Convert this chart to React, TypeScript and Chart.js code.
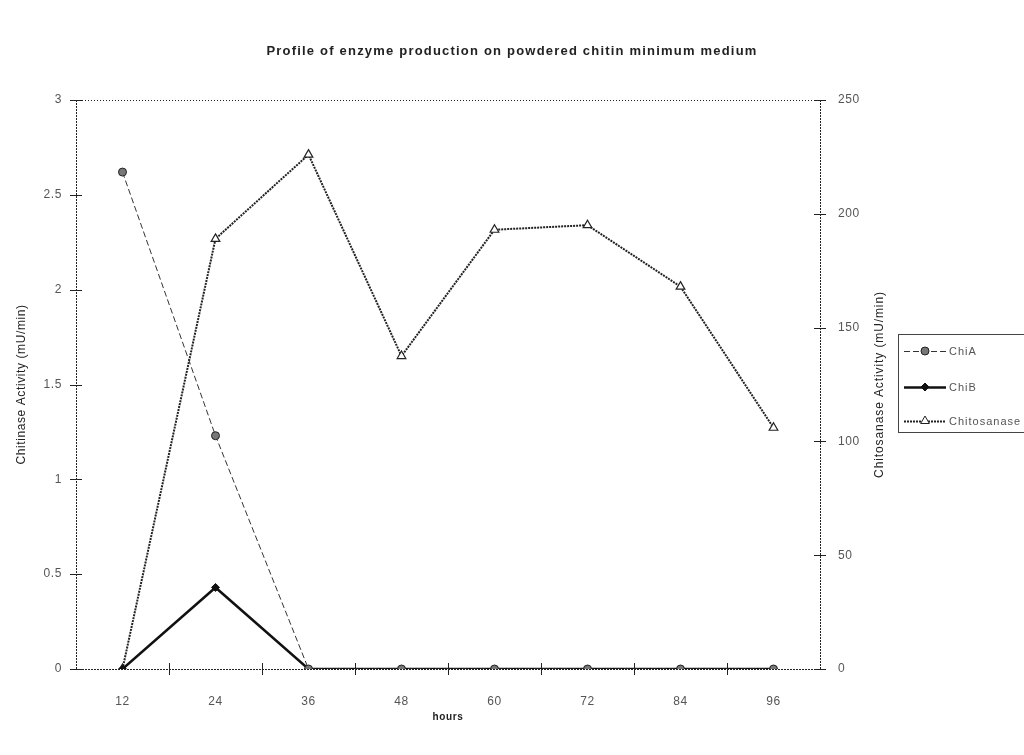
import React, { useEffect, useRef } from "react";
import { Chart, registerables } from "chart.js";

Chart.register(...registerables);

const hours = ["12", "24", "36", "48", "60", "72", "84", "96"];
const chiA = [2.62, 1.23, 0, 0, 0, 0, 0, 0];
const chiB = [0, 0.43, 0, 0, 0, 0, 0, 0];
const chitosanase = [0, 189, 226, 137.5, 193, 195, 168, 106];
const leftTicks = [0, 0.5, 1, 1.5, 2, 2.5, 3];
const rightTicks = [0, 50, 100, 150, 200, 250];

const TITLE = "Profile of enzyme production on powdered chitin minimum medium";
const RIGHT_TITLE = "Chitosanase Activity (mU/min)";
const FONT = "Arial, 'Liberation Sans', sans-serif";

function drawMarker(ctx: CanvasRenderingContext2D, style: string, x: number, y: number, r: number) {
  ctx.beginPath();
  if (style === "circle") {
    ctx.arc(x, y, r, 0, Math.PI * 2);
  } else if (style === "rectRot") {
    ctx.moveTo(x, y - r);
    ctx.lineTo(x + r, y);
    ctx.lineTo(x, y + r);
    ctx.lineTo(x - r, y);
    ctx.closePath();
  } else if (style === "triangle") {
    ctx.moveTo(x, y - r);
    ctx.lineTo(x + r * 0.87, y + r * 0.5);
    ctx.lineTo(x - r * 0.87, y + r * 0.5);
    ctx.closePath();
  }
  ctx.fill();
  ctx.stroke();
}

const spacingPlugin = {
  id: "spacing",
  beforeDraw(chart: any) {
    (chart.ctx as any).letterSpacing = "0.6px";
  },
};

const framePlugin = {
  id: "frame",
  afterDraw(chart: any) {
    const ctx = chart.ctx;
    const { left, right, top, bottom } = chart.chartArea;
    const yL = chart.scales.y;
    const yR = chart.scales.y2;
    const x = chart.scales.x;
    ctx.save();
    ctx.fillStyle = "#222";
    ctx.font = "bold 13px " + FONT;
    (ctx as any).letterSpacing = "1.2px";
    ctx.textAlign = "center";
    ctx.textBaseline = "middle";
    ctx.fillText(TITLE, 512, 51);
    ctx.save();
    ctx.translate(880, (top + bottom) / 2);
    ctx.rotate(-Math.PI / 2);
    ctx.font = "12px " + FONT;
    (ctx as any).letterSpacing = "0.9px";
    ctx.fillText(RIGHT_TITLE, 0, 0);
    ctx.restore();

    ctx.strokeStyle = "#222";
    ctx.lineWidth = 1;
    ctx.setLineDash([1, 2]);
    ctx.beginPath();
    ctx.moveTo(left, top + 0.5);
    ctx.lineTo(right, top + 0.5);
    ctx.stroke();
    ctx.setLineDash([2, 1]);
    ctx.beginPath();
    ctx.moveTo(left + 0.5, top);
    ctx.lineTo(left + 0.5, bottom);
    ctx.moveTo(right + 0.5, top);
    ctx.lineTo(right + 0.5, bottom);
    ctx.moveTo(left, bottom + 0.5);
    ctx.lineTo(right, bottom + 0.5);
    ctx.stroke();
    ctx.setLineDash([]);
    ctx.beginPath();
    leftTicks.forEach((v) => {
      const py = Math.round(yL.getPixelForValue(v)) + 0.5;
      ctx.moveTo(left - 6, py);
      ctx.lineTo(left + 6, py);
    });
    rightTicks.forEach((v) => {
      const py = Math.round(yR.getPixelForValue(v)) + 0.5;
      ctx.moveTo(right - 6, py);
      ctx.lineTo(right + 6, py);
    });
    for (let i = 0; i < hours.length - 1; i++) {
      const px = Math.round((x.getPixelForValue(i) + x.getPixelForValue(i + 1)) / 2) + 0.5;
      ctx.moveTo(px, bottom - 6);
      ctx.lineTo(px, bottom + 6);
    }
    ctx.stroke();

    const lx = 898, ly = 334, lw = 140, lh = 98;
    ctx.strokeStyle = "#444";
    ctx.lineWidth = 1;
    ctx.strokeRect(lx + 0.5, ly + 0.5, lw, lh);
    const rows = [351, 387, 421];
    chart.data.datasets.forEach((ds: any, i: number) => {
      const cy = rows[i];
      ctx.save();
      ctx.strokeStyle = ds.borderColor;
      ctx.lineWidth = ds.borderWidth;
      ctx.setLineDash(ds.borderDash || []);
      ctx.beginPath();
      ctx.moveTo(lx + 6, cy + 0.5);
      ctx.lineTo(lx + 48, cy + 0.5);
      ctx.stroke();
      ctx.setLineDash([]);
      ctx.fillStyle = ds.pointBackgroundColor;
      ctx.strokeStyle = ds.pointBorderColor;
      ctx.lineWidth = 1;
      drawMarker(ctx, ds.pointStyle, lx + 27, cy, ds.pointRadius);
      ctx.fillStyle = "#555";
      ctx.font = "11px " + FONT;
      (ctx as any).letterSpacing = "1px";
      ctx.textBaseline = "middle";
      ctx.textAlign = "left";
      ctx.fillText(ds.label, lx + 51, cy + 1);
      ctx.restore();
    });
    ctx.restore();
  },
};

export default function App() {
  const ref = useRef<HTMLCanvasElement | null>(null);
  useEffect(() => {
    document.body.style.margin = "0";
    const fmt = (v: any) => String(v);
    const chart = new Chart(ref.current as HTMLCanvasElement, {
      type: "line",
      data: {
        labels: hours,
        datasets: [
          {
            label: "ChiA",
            data: chiA,
            yAxisID: "y",
            borderColor: "#333",
            borderWidth: 1,
            borderDash: [6, 3],
            pointStyle: "circle",
            pointRadius: 4,
            pointBackgroundColor: "#777",
            pointBorderColor: "#222",
            pointBorderWidth: 1,
            tension: 0,
          },
          {
            label: "ChiB",
            data: chiB,
            yAxisID: "y",
            borderColor: "#111",
            borderWidth: 2.5,
            pointStyle: "rectRot",
            pointRadius: 4,
            pointBackgroundColor: "#111",
            pointBorderColor: "#111",
            pointBorderWidth: 1,
            tension: 0,
          },
          {
            label: "Chitosanase",
            data: chitosanase,
            yAxisID: "y2",
            borderColor: "#222",
            borderWidth: 2,
            borderDash: [2, 1],
            pointStyle: "triangle",
            pointRadius: 5,
            pointBackgroundColor: "#fff",
            pointBorderColor: "#222",
            pointBorderWidth: 1.2,
            tension: 0,
          },
        ],
      },
      options: {
        animation: false,
        responsive: false,
        layout: { padding: { left: 0, right: 132, top: 100, bottom: 0 } },
        plugins: {
          legend: { display: false },
          tooltip: { enabled: false },
          title: { display: false },
        },
        scales: {
          x: {
            type: "category",
            offset: true,
            border: { display: false },
            grid: { display: true, color: "rgba(0,0,0,0)", drawOnChartArea: false, drawTicks: true, tickLength: 8 },
            ticks: { color: "#555", font: { family: FONT, size: 12 }, padding: 17, maxRotation: 0 },
            title: {
              display: true,
              text: "hours",
              color: "#222",
              font: { family: FONT, size: 10, weight: "bold" },
              padding: { top: 0, bottom: 32 },
            },
            afterFit: (s: any) => {
              s.height = 86;
            },
          },
          y: {
            type: "linear",
            position: "left",
            min: 0,
            max: 3,
            border: { display: false },
            grid: { display: true, color: "rgba(0,0,0,0)", drawOnChartArea: false, drawTicks: true, tickLength: 8 },
            afterBuildTicks: (s: any) => {
              s.ticks = leftTicks.map((v) => ({ value: v }));
            },
            ticks: { color: "#555", font: { family: FONT, size: 12 }, padding: 6, callback: fmt },
            title: {
              display: true,
              text: "Chitinase Activity (mU/min)",
              color: "#222",
              font: { family: FONT, size: 12 },
              padding: { top: 14, bottom: 0 },
            },
            afterFit: (s: any) => {
              s.width = 76;
            },
          },
          y2: {
            type: "linear",
            position: "right",
            min: 0,
            max: 250,
            border: { display: false },
            grid: { display: true, color: "rgba(0,0,0,0)", drawOnChartArea: false, drawTicks: true, tickLength: 8 },
            afterBuildTicks: (s: any) => {
              s.ticks = rightTicks.map((v) => ({ value: v }));
            },
            ticks: { color: "#555", font: { family: FONT, size: 12 }, padding: 10, callback: fmt },
            title: { display: false },
            afterFit: (s: any) => {
              s.width = 72;
            },
          },
        },
      },
      plugins: [spacingPlugin, framePlugin],
    });
    return () => chart.destroy();
  }, []);
  return (
    <div style={{ position: "fixed", left: 0, top: 0, width: 1024, height: 755, background: "#fff" }}>
      <canvas ref={ref} width={1024} height={755} style={{ width: 1024, height: 755, display: "block" }} />
    </div>
  );
}
